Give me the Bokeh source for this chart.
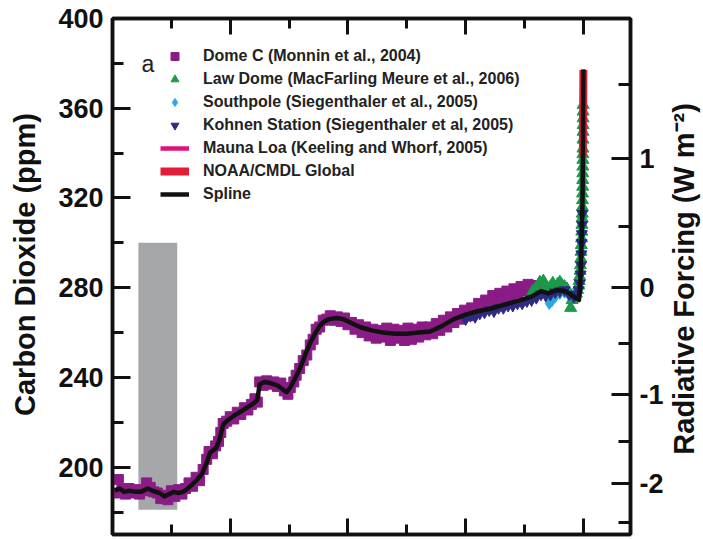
import numpy as np
from bokeh.plotting import figure
from bokeh.layouts import row
from bokeh.models import (Range1d, LinearAxis, FixedTicker, CustomJSTickFormatter,
                          Label, Legend, LegendItem)
from bokeh.core.properties import value
from bokeh.embed import file_html
from bokeh.resources import INLINE

# ---------------- data (years before 2005, ppm) ----------------
dome_years = [19900, 19750, 19600, 19450, 19300, 19150, 19000, 18850, 18700, 18550,
              18400, 18250, 18100, 17950, 17800, 17650, 17500, 17350, 17200, 17050,
              16900, 16750, 16600, 16450, 16300, 16150, 16000, 15900, 15750, 15620,
              15500, 15400, 15300, 15150, 15000, 14850, 14700, 14550, 14400, 14250,
              14100, 13950, 13850, 13750, 13600, 13450, 13300, 13150, 13000, 12850,
              12700, 12550, 12450, 12300, 12200, 12050, 11900, 11750, 11600, 11480,
              11350, 11200, 11050, 10900, 10750, 10600, 10450, 10300, 10150, 10000,
              9850, 9700, 9550, 9400, 9250, 9100, 8950, 8800, 8650, 8500,
              8350, 8200, 8050, 7900, 7750, 7600, 7450, 7300, 7150, 7000,
              6850, 6700, 6550, 6400, 6250, 6100, 5950, 5800, 5650, 5500,
              5350, 5200, 5050, 4900, 4750, 4600, 4450, 4300, 4150, 4000,
              3850, 3700, 3550, 3400, 3250, 3100, 2950, 2800, 2650, 2500,
              2350, 2200, 2050, 1900]
dome_ppm = [188.5, 194.5, 190.0, 188.0, 190.5, 188.5, 190.0, 188.0, 189.5, 193.0,
            191.0, 189.0, 188.5, 186.0, 187.5, 185.5, 189.5, 187.0, 190.0, 188.0,
            190.5, 193.0, 191.5, 195.5, 194.0, 199.0, 203.5, 207.0, 206.0, 209.5,
            211.5, 215.5, 219.5, 220.5, 222.5, 221.5, 224.5, 223.5, 226.5, 225.5,
            228.0, 230.5, 229.0, 238.0, 236.5, 238.5, 237.0, 238.0, 236.0, 237.5,
            234.0, 232.5, 235.5, 238.0, 241.0, 244.0, 247.5, 250.0, 254.5, 257.0,
            261.5, 262.5, 265.5, 266.0, 267.5, 265.5, 267.0, 265.0, 266.5, 263.5,
            264.5, 261.5, 263.5, 260.0, 262.5, 258.5, 261.5, 257.5, 261.0, 258.0,
            262.0, 256.5, 261.5, 257.5, 261.0, 256.5, 262.0, 257.0, 261.5, 258.0,
            262.5, 259.0, 262.5, 259.5, 264.0, 261.0, 265.5, 262.5, 267.0, 264.5,
            268.5, 266.0, 270.0, 267.5, 271.0, 269.0, 273.0, 270.5, 274.5, 272.5,
            276.5, 273.5, 277.5, 275.0, 278.5, 276.0, 279.5, 277.5, 280.5, 278.5,
            281.5, 279.0, 281.0, 279.5]

law_years = [2150, 2000, 1850, 1700, 1600, 1500, 1400, 1300, 1200, 1100,
             1000, 900, 800, 700, 600, 540, 480, 400, 300, 250,
             205, 180, 160, 140, 125, 110, 100, 90, 80, 70,
             62, 55, 50, 45, 40, 35, 32, 29, 27, 25,
             23, 21, 19, 17, 15, 14, 13, 12, 11]
law_ppm = [278.5, 280.0, 282.5, 283.0, 281.0, 279.5, 280.5, 282.0, 280.0, 281.5,
           282.5, 281.0, 280.5, 279.5, 277.5, 271.0, 274.5, 276.5, 277.5, 279.0,
           281.0, 283.0, 285.0, 287.5, 290.0, 293.0, 296.0, 299.0, 302.0, 305.0,
           308.0, 311.0, 313.0, 316.0, 319.0, 322.0, 325.0, 328.0, 331.0, 334.0,
           337.0, 339.5, 342.0, 346.0, 349.5, 352.5, 355.5, 358.5, 361.5]

sp_years = [1450, 1350, 1200, 1000, 800, 600, 400, 250, 150, 90, 60]
sp_ppm = [273.0, 274.0, 276.0, 277.5, 278.0, 276.5, 277.0, 278.0, 283.0, 300.0, 309.0]

kohnen_years = [5000, 4800, 4600, 4400, 4200, 4000, 3800, 3600, 3400, 3200,
                3000, 2800, 2600, 2400, 2200, 2000, 1800, 1600, 1400, 1200,
                1000, 800, 600, 400, 300, 200, 150, 120, 100, 85,
                75, 65, 55, 45]
kohnen_ppm = [266.0, 267.5, 267.0, 268.5, 269.0, 270.0, 269.5, 271.0, 271.0, 272.0,
              272.0, 273.0, 273.0, 274.0, 274.5, 275.5, 277.0, 276.5, 277.0, 278.0,
              278.5, 279.0, 277.0, 276.0, 277.0, 279.0, 282.0, 286.0, 290.0, 295.0,
              300.0, 304.0, 308.0, 313.0]

mlo_years = [47, 40, 35, 30, 25, 20, 15, 10, 5, 1]
mlo_ppm = [315.5, 320.5, 325.5, 331.0, 338.5, 345.5, 354.0, 360.5, 369.5, 377.5]

noaa_years = [25, 20, 15, 10, 5, 1]
noaa_ppm = [338.5, 345.5, 353.5, 360.5, 369.0, 377.0]

spline_years = [19900, 19700, 19500, 19300, 19000, 18800, 18500, 18300, 18000, 17800,
                17600, 17400, 17200, 17000, 16800, 16600, 16400, 16200, 16000, 15850,
                15600, 15450, 15300, 15100, 14900, 14600, 14300, 14000, 13850, 13750,
                13550, 13300, 13000, 12750, 12600, 12450, 12200, 12000, 11800, 11600,
                11400, 11200, 11000, 10800, 10500, 10200, 9900, 9500, 9000, 8500,
                8000, 7500, 7000, 6500, 6000, 5500, 5000, 4500, 4000, 3500,
                3000, 2500, 2200, 1800, 1500, 1100, 800, 600, 400, 250,
                190, 150, 120, 100, 70, 50, 40, 30, 20, 10, 1]
spline_ppm = [189.5, 190.5, 189.0, 189.5, 189.0, 189.0, 190.5, 189.5, 188.5, 187.0,
              188.0, 189.0, 188.5, 189.0, 190.5, 192.5, 194.5, 197.0, 202.0, 206.5,
              208.5, 212.5, 219.0, 221.0, 222.5, 224.5, 226.5, 228.5, 230.0, 237.0,
              238.0, 237.5, 236.5, 234.5, 233.5, 235.5, 240.5, 245.0, 250.5, 255.5,
              259.5, 263.0, 265.0, 266.0, 266.5, 266.0, 264.5, 262.5, 261.0, 260.0,
              259.5, 259.5, 260.0, 260.5, 263.0, 266.0, 268.0, 269.5, 270.5, 272.0,
              273.5, 275.0, 276.0, 278.5, 277.5, 279.0, 278.5, 277.5, 276.0, 275.0,
              274.5, 279.0, 286.0, 294.0, 305.0, 313.0, 318.0, 327.0, 341.0, 360.0, 377.0]

# shaded interval
box_start, box_end = 18900, 17250
box_bottom, box_top = 181, 300

# axes
x_major = [20000, 15000, 10000, 5000, 0]
x_minor = [17500, 12500, 7500, 2500]
y_major = [200, 240, 280, 320, 360, 400]
y_minor = [180, 220, 260, 300, 340, 380]
rf_major = [-2, -1, 0, 1]
rf_minor = [-2.5, -1.5, -0.5, 0.5, 1.5]
rf_c0, rf_k = 280.0, 5.35

left_title = "Carbon Dioxide (ppm)"
right_title = "Radiative Forcing (W m\u207b\u00b2)"

legend_labels = ["Dome C (Monnin et al., 2004)",
                 "Law Dome (MacFarling Meure et al., 2006)",
                 "Southpole (Siegenthaler et al., 2005)",
                 "Kohnen Station (Siegenthaler et al, 2005)",
                 "Mauna Loa (Keeling and Whorf, 2005)",
                 "NOAA/CMDL Global",
                 "Spline"]

# ---------------- styling ----------------
FONT = "Liberation Sans"
INK = "#111111"
PURPLE = "#8b1c86"
GREEN = "#1b9a4a"
LBLUE = "#29a9e1"
NAVY = "#2d2a80"
MAGENTA = "#e2127d"
RED = "#e21d38"
GRAY = "#a5a7a9"

H = 539
LW, RW = 48, 37          # side strips holding the rotated axis titles
MW = 703 - LW - RW       # main figure width

p = figure(width=MW, height=H, output_backend="svg", toolbar_location=None,
           x_range=Range1d(20000, -2000), y_range=Range1d(170, 400),
           min_border_left=112 - LW, min_border_right=LW + MW - 630,
           min_border_top=18, min_border_bottom=5)
p.grid.visible = False
p.outline_line_color = INK
p.outline_line_width = 3.5
p.background_fill_color = "white"
p.border_fill_color = "white"


def style_axis(ax, major_len, minor_len):
    ax.major_tick_in = major_len
    ax.major_tick_out = 0
    ax.minor_tick_in = minor_len
    ax.minor_tick_out = 0
    ax.major_tick_line_width = 3
    ax.minor_tick_line_width = 3
    ax.major_tick_line_color = INK
    ax.minor_tick_line_color = INK
    ax.axis_line_width = 3.5
    ax.axis_line_color = INK
    ax.major_label_text_font = FONT
    ax.major_label_text_font_style = "bold"
    ax.major_label_text_font_size = "27px"
    ax.major_label_text_color = INK
    ax.major_label_standoff = 9


blank = CustomJSTickFormatter(code="return ''")

xb = p.xaxis[0]
xb.ticker = FixedTicker(ticks=x_major, minor_ticks=x_minor)
xb.formatter = blank
style_axis(xb, 16, 10)
xb.major_label_standoff = 0

xt = LinearAxis(ticker=FixedTicker(ticks=x_major, minor_ticks=x_minor), formatter=blank)
style_axis(xt, 16, 10)
xt.major_label_standoff = 0
p.add_layout(xt, "above")

yl = p.yaxis[0]
yl.ticker = FixedTicker(ticks=y_major, minor_ticks=y_minor)
style_axis(yl, 18, 11)

rf_major_pos = [rf_c0 * np.exp(v / rf_k) for v in rf_major]
rf_minor_pos = [rf_c0 * np.exp(v / rf_k) for v in rf_minor]
yr = LinearAxis(ticker=FixedTicker(ticks=rf_major_pos, minor_ticks=rf_minor_pos),
                formatter=CustomJSTickFormatter(
                    args=dict(c0=rf_c0, k=rf_k),
                    code="const v = Math.round(k*Math.log(tick/c0)); return (v == 0 ? 0 : v).toString()"))
style_axis(yr, 19, 12)
p.add_layout(yr, "right")

# ---------------- glyphs ----------------
p.quad(left=[box_start], right=[box_end], bottom=[box_bottom], top=[box_top],
       fill_color=GRAY, line_color=None)

r_dome = p.scatter(dome_years, dome_ppm, marker="square", size=10,
                   fill_color=PURPLE, line_color=PURPLE)
r_mlo = p.line(mlo_years, mlo_ppm, line_color=MAGENTA, line_width=4.5)
r_law = p.scatter(law_years, law_ppm, marker="triangle", size=12,
                  fill_color=GREEN, line_color=GREEN)
r_sp = p.scatter(sp_years, sp_ppm, marker="diamond", size=12,
                 fill_color=LBLUE, line_color=LBLUE)
r_koh = p.scatter(kohnen_years, kohnen_ppm, marker="inverted_triangle", size=11,
                  fill_color=NAVY, line_color=NAVY)
r_noaa = p.line(noaa_years, noaa_ppm, line_color=RED, line_width=8)
r_spl = p.line(spline_years, spline_ppm, line_color=INK, line_width=4.5,
               line_join="round")

renderers = [r_dome, r_law, r_sp, r_koh, r_mlo, r_noaa, r_spl]
legend = Legend(items=[LegendItem(label=l, renderers=[r]) for l, r in zip(legend_labels, renderers)],
                location=(48, 330), orientation="vertical",
                background_fill_alpha=0, border_line_color=None,
                label_text_font=FONT, label_text_font_style="bold",
                label_text_font_size="16px", label_text_color="#222222",
                glyph_width=29, glyph_height=20, label_height=20,
                label_standoff=14, spacing=3, padding=0, margin=0)
p.add_layout(legend)

p.add_layout(Label(x=29, y=471, x_units="screen", y_units="screen", text="a",
                   text_font=FONT, text_font_size="23px", text_color="#222222",
                   text_baseline="alphabetic", text_align="left"))


# ---------------- side strips with the rotated axis titles ----------------
def title_strip(width, title, cx, cy):
    s = figure(width=width, height=H, output_backend="svg", toolbar_location=None,
               x_range=Range1d(0, width), y_range=Range1d(H, 0),
               x_axis_location=None, y_axis_location=None,
               min_border=0, min_border_left=0, min_border_right=0,
               min_border_top=0, min_border_bottom=0)
    s.grid.visible = False
    s.outline_line_color = None
    s.background_fill_color = "white"
    s.border_fill_color = "white"
    s.text(x=[cx], y=[cy], text=[title], angle=np.pi / 2,
           text_align="center", text_baseline="middle",
           text_font=value(FONT), text_font_style="bold",
           text_font_size="29px", text_color=INK)
    return s


left_strip = title_strip(LW, left_title, 24, 257)
right_strip = title_strip(RW, right_title, 683 - LW - MW, 272)

layout = row(left_strip, p, right_strip, spacing=0)

open("out.html", "w").write(file_html(layout, INLINE))
